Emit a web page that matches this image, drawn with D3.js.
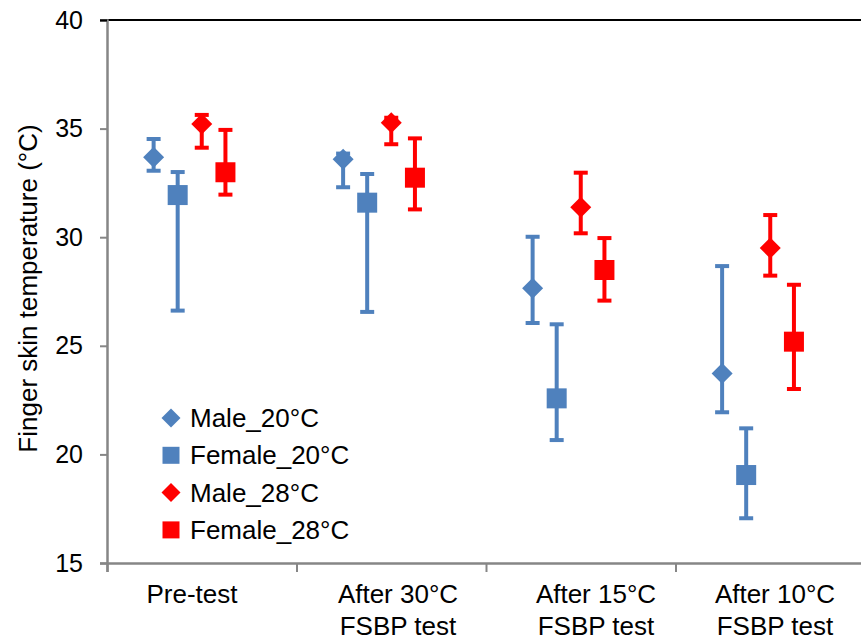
<!DOCTYPE html>
<html><head><meta charset="utf-8">
<script src="https://cdn.jsdelivr.net/npm/d3@7"></script>
<style>body{margin:0;background:#fff}svg{display:block;font-family:"Liberation Sans",Arial,sans-serif}</style>
</head><body><svg id="c" width="861" height="639"></svg>
<script>
const categories = [["Pre-test"], ["After 30°C", "FSBP test"], ["After 15°C", "FSBP test"], ["After 10°C", "FSBP test"]];
const yTicks = [15, 20, 25, 30, 35, 40];
const seriesNames = ["Male_20°C", "Female_20°C", "Male_28°C", "Female_28°C"];
const seriesColors = ["#4F81BD", "#4F81BD", "#FF0000", "#FF0000"];
const seriesShapes = ["diamond", "square", "diamond", "square"];
const male20 = [33.68, 33.59, 27.65, 23.73];
const male20Low = [33.06, 32.30, 26.05, 21.94];
const male20High = [34.52, 33.85, 30.02, 28.67];
const female20 = [31.94, 31.59, 22.58, 19.05];
const female20Low = [26.62, 26.56, 20.66, 17.06];
const female20High = [33.00, 32.91, 25.99, 21.20];
const male28 = [35.21, 35.27, 31.38, 29.50];
const male28Low = [34.12, 34.28, 30.18, 28.23];
const male28High = [35.63, 35.50, 32.97, 31.02];
const female28 = [32.99, 32.74, 28.49, 25.19];
const female28Low = [31.96, 31.28, 27.08, 23.01];
const female28High = [34.94, 34.55, 29.96, 27.81];
const seriesOffsets = [-0.254, -0.127, 0, 0.125];

const series = [
  {v: male20, lo: male20Low, hi: male20High},
  {v: female20, lo: female20Low, hi: female20High},
  {v: male28, lo: male28Low, hi: male28High},
  {v: female28, lo: female28Low, hi: female28High}
].map((s, i) => ({...s, name: seriesNames[i], color: seriesColors[i], shape: seriesShapes[i], off: seriesOffsets[i]}));

const svg = d3.select("#c");
const x = d3.scaleLinear().domain([0, categories.length]).range([107, 865]);
const y = d3.scaleLinear().domain([15, 40]).range([563, 20]);

// top border
svg.append("line").attr("x1", 100).attr("x2", 861).attr("y1", y(40)).attr("y2", y(40))
  .attr("stroke", "#000").attr("stroke-width", 2);

// y axis
const yAxis = d3.axisLeft(y).tickValues(yTicks).tickSize(7).tickPadding(17);
const gy = svg.append("g").attr("transform", `translate(${x(0)},0)`).call(yAxis);
gy.select(".domain").attr("stroke", "#868686").attr("stroke-width", 2.5);
gy.selectAll(".tick line").attr("stroke", "#868686").attr("stroke-width", 2);
gy.selectAll(".tick text").attr("font-size", 25).attr("fill", "#000").attr("font-family", "Liberation Sans, Arial, sans-serif");
gy.selectAll(".tick").filter(d => d === 40).select("line").attr("stroke", "#000");

// x axis
const xAxis = d3.axisBottom(x).tickValues(d3.range(0, categories.length + 1)).tickSize(9).tickFormat("");
const gx = svg.append("g").attr("transform", `translate(0,${y(15)})`).call(xAxis);
gx.select(".domain").attr("stroke", "#868686").attr("stroke-width", 2.5);
gx.selectAll(".tick line").attr("stroke", "#868686").attr("stroke-width", 2);

// category labels
const labelShift = [-9.75, 6.75, 15.25, 4.75];
categories.forEach((lines, i) => {
  const cx = x(i + 0.5) + labelShift[i];
  const t = svg.append("text").attr("x", cx).attr("y", 603)
    .attr("text-anchor", "middle").attr("font-size", 26).attr("fill", "#000");
  lines.forEach((l, j) => t.append("tspan").attr("x", cx).attr("dy", j === 0 ? 0 : 32).text(l));
});

// y title
svg.append("text").attr("transform", `translate(37,${(y(15) + y(40)) / 2 - 3}) rotate(-90)`)
  .attr("text-anchor", "middle").attr("font-size", 26).attr("fill", "#000")
  .text("Finger skin temperature (°C)");

function marker(g, shape, cx, cy, size, color) {
  if (shape === "diamond") {
    const h = size / 2;
    g.append("path").attr("d", `M${cx},${cy - h}L${cx + h},${cy}L${cx},${cy + h}L${cx - h},${cy}Z`).attr("fill", color);
  } else {
    g.append("rect").attr("x", cx - size / 2).attr("y", cy - size / 2).attr("width", size).attr("height", size).attr("fill", color);
  }
}

const plot = svg.append("g");
series.forEach(s => {
  s.v.forEach((v, i) => {
    const cx = x(i + 0.5 + s.off);
    const g = plot.append("g");
    g.append("line").attr("x1", cx).attr("x2", cx).attr("y1", y(s.lo[i])).attr("y2", y(s.hi[i]))
      .attr("stroke", s.color).attr("stroke-width", 4);
    [s.lo[i], s.hi[i]].forEach(c => {
      g.append("line").attr("x1", cx - 7).attr("x2", cx + 7).attr("y1", y(c)).attr("y2", y(c))
        .attr("stroke", s.color).attr("stroke-width", 4);
    });
    marker(g, s.shape, cx, y(v), s.shape === "diamond" ? 21 : 20, s.color);
  });
});

// legend
const leg = svg.append("g");
series.forEach((s, i) => {
  const ly = 418 + i * 37.3;
  marker(leg, s.shape, 171, ly, s.shape === "diamond" ? 19 : 17, s.color);
  leg.append("text").attr("x", 190).attr("y", ly + 9).attr("font-size", 26).attr("fill", "#000").text(s.name);
});
</script></body></html>
